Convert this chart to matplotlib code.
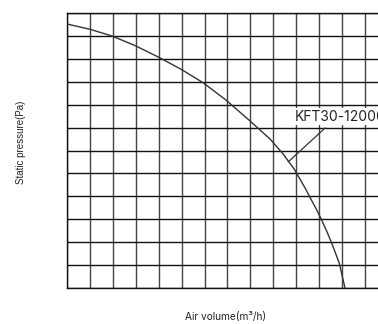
import matplotlib
matplotlib.use('Agg')
from matplotlib import pyplot as plt

# curve, in grid cells (x: air volume, y: static pressure)
air = [0, 1.00, 1.95, 2.97, 3.98, 4.97, 5.95, 6.94, 7.94, 8.86, 9.43, 9.92,
       10.39, 10.90, 11.11, 11.35, 11.55, 11.88, 12.13]
pressure = [11.52, 11.29, 11.0, 10.58, 10.08, 9.55, 8.95, 8.20, 7.33, 6.50, 5.85, 5.18,
            4.36, 3.40, 2.97, 2.44, 1.96, 1.09, 0]
model = "KFT30-12000"
n_x, n_y = 14, 12

fig = plt.figure(figsize=(3.78, 3.24), dpi=100)
W, H = 378, 324
x0, y_top, y_bot = 67, 13, 288
cell = (y_bot - y_top) / n_y
ax = fig.add_axes([x0 / W, (H - y_bot) / H, n_x * cell / W, (y_bot - y_top) / H])

for i in range(n_x + 1):
    ax.axvline(i, color='#444444', lw=1.0, zorder=1)
for j in range(n_y + 1):
    ax.axhline(j, color='#111111', lw=1.0, zorder=1)

ax.plot(air, pressure, color='#333333', lw=1.0, zorder=3)
ax.set_xlim(0, n_x)
ax.set_ylim(0, n_y)
ax.set_xticks([])
ax.set_yticks([])
for s in ax.spines.values():
    s.set_color('#111111')
    s.set_linewidth(1.0)

# leader line and label (the label runs off the right edge, as in the original)
ax.plot([9.66, 11.26], [5.51, 6.98], color='#333333', lw=0.9, zorder=3)
ax.text(9.95, 7.47, model, fontsize=10, family='Inter', va='center', ha='left',
        color='#222222', zorder=4,
        bbox=dict(facecolor='white', edgecolor='none', pad=1.0))

fig.text(21 / W, 1 - 142 / H, "Static pressure(Pa)", rotation=90, fontsize=7,
         family='Liberation Sans', ha='center', va='center', color='#222222')
fig.text(226 / W, 1 - 317 / H, "Air volume(m³/h)", fontsize=7.3,
         family='Inter', ha='center', va='center', color='#222222')

fig.savefig('out.png', dpi=100)
